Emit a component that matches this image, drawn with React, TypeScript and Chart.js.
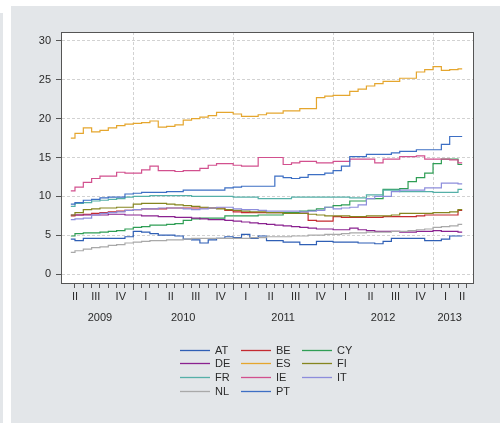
import React, { useEffect, useRef } from 'react';
import { Chart, registerables } from 'chart.js';

Chart.register(...registerables);

// ---- Data (monthly unemployment rate, %, May 2009 – Apr 2013) ----
const COUNTRIES = ['AT', 'BE', 'CY', 'DE', 'ES', 'FI', 'FR', 'IE', 'IT', 'NL', 'PT'];

const AT = [4.5, 4.3, 4.6, 4.6, 4.6, 4.6, 4.6, 4.8, 5.5, 5.4, 5.2, 5.0,
  5.0, 4.9, 4.5, 4.4, 4.0, 4.4, 4.6, 4.8, 4.7, 5.1, 4.6, 4.9,
  4.3, 4.3, 4.1, 4.1, 3.8, 3.8, 4.2, 4.2, 4.1, 4.1, 4.1, 4.0,
  4.0, 3.9, 4.2, 4.6, 4.6, 4.6, 4.6, 4.3, 4.3, 4.5, 4.9, 4.9];
const BE = [7.5, 7.6, 7.7, 7.8, 7.9, 8.0, 8.1, 8.2, 8.3, 8.4, 8.4, 8.4,
  8.5, 8.5, 8.5, 8.5, 8.5, 8.5, 8.5, 8.2, 8.0, 7.9, 7.9, 7.9,
  7.9, 7.9, 7.85, 7.85, 7.85, 6.9, 6.8, 6.8, 7.4, 7.3, 7.3, 7.3,
  7.3, 7.3, 7.4, 7.4, 7.4, 7.4, 7.5, 7.6, 7.6, 7.6, 7.6, 8.2];
const CY = [4.9, 5.2, 5.3, 5.3, 5.4, 5.5, 5.6, 5.8, 6.0, 6.1, 6.3, 6.3,
  6.4, 6.5, 6.9, 7.1, 7.2, 7.2, 7.2, 7.5, 7.5, 7.5, 7.5, 7.6,
  7.6, 7.6, 7.9, 7.9, 8.1, 8.2, 8.4, 8.6, 8.8, 8.9, 9.4, 9.4,
  9.7, 9.7, 10.9, 10.9, 11.0, 11.9, 12.4, 13.0, 14.2, 14.8, 14.8, 14.1];
const DE = [7.6, 7.6, 7.6, 7.6, 7.6, 7.7, 7.7, 7.6, 7.6, 7.5, 7.5, 7.4,
  7.4, 7.3, 7.3, 7.2, 7.1, 7.0, 7.0, 6.9, 6.8, 6.7, 6.6, 6.5,
  6.4, 6.3, 6.2, 6.1, 6.0, 5.9, 5.8, 5.8, 5.7, 5.7, 5.9, 5.7,
  5.6, 5.5, 5.5, 5.5, 5.4, 5.4, 5.5, 5.5, 5.6, 5.5, 5.5, 5.4];
const ES = [17.5, 18.1, 18.8, 18.3, 18.5, 18.8, 19.1, 19.3, 19.4, 19.5, 19.7, 18.9,
  19.0, 19.2, 19.8, 20.0, 20.2, 20.4, 20.8, 20.8, 20.6, 20.3, 20.3, 20.5,
  20.7, 20.7, 21.0, 21.0, 21.3, 21.3, 22.7, 22.9, 23.0, 23.0, 23.5, 23.8,
  24.2, 24.5, 24.8, 24.8, 25.2, 25.2, 26.0, 26.3, 26.7, 26.2, 26.3, 26.4];
const FI = [7.6, 7.9, 8.3, 8.4, 8.5, 8.5, 8.6, 8.6, 9.0, 9.1, 9.1, 9.1,
  9.0, 8.9, 8.8, 8.7, 8.6, 8.5, 8.4, 8.3, 8.2, 8.1, 8.0, 8.0,
  7.9, 7.9, 7.8, 7.8, 7.8, 7.7, 7.6, 7.5, 7.5, 7.5, 7.4, 7.4,
  7.5, 7.5, 7.5, 7.6, 7.8, 7.8, 7.8, 7.8, 7.9, 7.9, 8.0, 8.3];
const FR = [8.7, 9.1, 9.2, 9.4, 9.5, 9.6, 9.7, 9.9, 10.0, 10.0, 10.1, 10.1,
  10.1, 10.1, 10.1, 10.0, 10.0, 10.0, 10.0, 10.0, 9.9, 9.9, 9.9, 9.7,
  9.7, 9.7, 9.7, 9.9, 9.9, 9.9, 9.9, 9.9, 9.9, 9.9, 9.8, 9.8,
  10.2, 10.2, 10.8, 10.8, 10.6, 10.6, 10.6, 10.6, 10.5, 10.5, 10.5, 10.9];
const IE = [10.7, 11.2, 11.8, 12.3, 12.6, 12.6, 13.1, 13.0, 13.0, 13.4, 13.9, 13.3,
  13.3, 13.2, 13.3, 13.3, 13.6, 14.0, 14.2, 14.2, 14.0, 13.9, 13.9, 15.0,
  15.0, 15.0, 14.1, 14.3, 14.5, 14.5, 14.3, 14.3, 14.5, 14.5, 14.8, 14.8,
  14.8, 14.3, 14.8, 14.8, 15.1, 15.1, 15.2, 14.8, 14.8, 14.8, 14.7, 14.3];
const IT = [7.0, 7.1, 7.2, 7.6, 7.8, 7.9, 8.0, 8.2, 8.3, 8.4, 8.4, 8.5,
  8.5, 8.5, 8.4, 8.3, 8.4, 8.5, 8.6, 8.6, 8.4, 8.3, 8.3, 8.2,
  8.1, 8.1, 8.1, 8.1, 8.0, 8.1, 8.2, 8.6, 8.4, 8.5, 8.6, 8.9,
  9.7, 10.0, 10.0, 10.6, 10.8, 10.8, 10.8, 11.1, 11.1, 11.7, 11.7, 11.6];
const NL = [2.8, 3.0, 3.2, 3.4, 3.5, 3.7, 3.8, 4.0, 4.1, 4.2, 4.3, 4.3,
  4.4, 4.4, 4.5, 4.6, 4.6, 4.6, 4.6, 4.6, 4.6, 4.6, 4.7, 4.7,
  4.8, 4.8, 4.8, 4.9, 4.9, 5.0, 5.0, 5.1, 5.1, 5.2, 5.3, 5.3,
  5.4, 5.4, 5.4, 5.5, 5.5, 5.6, 5.7, 5.8, 6.0, 6.1, 6.2, 6.4];
const PT = [9.0, 9.2, 9.5, 9.6, 9.8, 9.9, 9.9, 10.3, 10.4, 10.5, 10.5, 10.5,
  10.6, 10.6, 10.8, 10.8, 10.8, 10.8, 10.8, 11.1, 11.2, 11.3, 11.3, 11.3,
  11.3, 12.6, 12.4, 12.3, 12.45, 12.8, 12.8, 13.0, 13.3, 13.9, 15.1, 15.1,
  15.4, 15.4, 15.4, 15.6, 15.8, 15.8, 16.0, 16.0, 16.0, 16.7, 17.7, 17.7];

const SERIES = [AT, BE, CY, DE, ES, FI, FR, IE, IT, NL, PT];

const YEARS = [2009, 2010, 2011, 2012, 2013];
const QUARTERS = ['I', 'II', 'III', 'IV'];
const Y_TICKS = [0, 5, 10, 15, 20, 25, 30];
const FIRST_MONTH_INDEX = 4; // May 2009, counted in months from Jan 2009

// ---- Styles ----
const COLORS = ['#2f5fb5', '#c42a30', '#2f9e55', '#8a2290', '#e5a62e', '#85851f',
  '#55b0a8', '#d2508e', '#8d8ddc', '#a9a9a9', '#3d6fc4'];
const PANEL = '#e3e6e9';
const AXIS = '#555555';
const GRID = '#d2d2d2';
const TEXT = '#2b2b2b';
const FONT_FAMILY = "'Liberation Sans', Arial, sans-serif";
const FONT = { family: FONT_FAMILY, size: 11 };

const X_MIN = 3.32;
const X_MAX = 52.8;
const Y_MIN = -1.15;
const Y_MAX = 31.15;

export default function App() {
  const ref = useRef<HTMLCanvasElement>(null);

  useEffect(() => {
    const canvas = ref.current;
    if (!canvas) return;
    const n = AT.length;
    const dataStart = FIRST_MONTH_INDEX;
    const dataEnd = dataStart + n;

    const monthTicks: number[] = [];
    for (let m = dataStart + 1; m <= dataEnd; m++) monthTicks.push(m);

    const quarterLabels = new Map<number, string>();
    YEARS.forEach((_y, yi) => {
      QUARTERS.forEach((q, qi) => {
        const s = yi * 12 + qi * 3;
        const e = s + 3;
        const a = Math.max(s, dataStart);
        const b = Math.min(e, dataEnd);
        if (b > a) quarterLabels.set((a + b) / 2, q);
      });
    });
    const yearLabels = new Map<number, string>();
    YEARS.forEach((y, yi) => {
      const a = Math.max(yi * 12, dataStart);
      const b = Math.min(yi * 12 + 12, dataEnd);
      if (b > a) yearLabels.set((a + b) / 2, String(y));
    });
    const xTickValues = Array.from(new Set([...monthTicks, ...quarterLabels.keys()])).sort((a, b) => a - b);
    const isYearBoundary = (v: any) => typeof v === 'number' && v % 12 === 0;
    const isMonth = (v: any) => typeof v === 'number' && Number.isInteger(v) && v > dataStart && v <= dataEnd;

    const plotBg = {
      id: 'plotBg',
      beforeDraw(chart: any) {
        const { ctx, chartArea } = chart;
        ctx.save();
        ctx.fillStyle = '#ffffff';
        ctx.fillRect(chartArea.left, chartArea.top, chartArea.right - chartArea.left, chartArea.bottom - chartArea.top);
        ctx.restore();
      },
    };

    const frame = {
      id: 'frame',
      afterDraw(chart: any) {
        const { ctx, chartArea } = chart;
        ctx.save();
        ctx.strokeStyle = AXIS;
        ctx.lineWidth = 1;
        ctx.beginPath();
        ctx.moveTo(chartArea.left, chartArea.top + 0.5);
        ctx.lineTo(chartArea.right + 1, chartArea.top + 0.5);
        ctx.moveTo(chartArea.right + 0.5, chartArea.top);
        ctx.lineTo(chartArea.right + 0.5, chartArea.bottom + 1);
        ctx.stroke();
        ctx.restore();
      },
    };

    const gridLegend = {
      id: 'gridLegend',
      afterDraw(chart: any) {
        const { ctx } = chart;
        const x0 = 169;
        const dx = 61;
        const y0 = 343.5;
        const dy = 13.8;
        const lineLen = 30;
        ctx.save();
        ctx.font = `11px ${FONT_FAMILY}`;
        ctx.textBaseline = 'middle';
        ctx.textAlign = 'left';
        chart.data.datasets.forEach((ds: any, k: number) => {
          const col = k % 3;
          const row = Math.floor(k / 3);
          const x = x0 + col * dx;
          const y = Math.round(y0 + row * dy) + 0.5;
          ctx.strokeStyle = ds.borderColor;
          ctx.lineWidth = 1.3;
          ctx.beginPath();
          ctx.moveTo(x, y);
          ctx.lineTo(x + lineLen, y);
          ctx.stroke();
          ctx.fillStyle = TEXT;
          ctx.fillText(ds.label, x + lineLen + 5, y + 0.5);
        });
        ctx.restore();
      },
    };

    const chart = new Chart(canvas, {
      type: 'line',
      data: {
        datasets: COUNTRIES.map((c, k) => ({
          label: c,
          data: SERIES[k].map((v, i) => ({ x: dataStart + i + 0.5, y: v })),
          borderColor: COLORS[k],
          backgroundColor: COLORS[k],
          borderWidth: 1.2,
          pointRadius: 0,
          stepped: 'middle',
          fill: false,
          order: COUNTRIES.length - k,
        })),
      },
      options: {
        responsive: false,
        animation: false,
        devicePixelRatio: 1,
        events: [],
        layout: { padding: { top: 26, right: 27, left: 0, bottom: 94 } },
        plugins: {
          legend: { display: false },
          tooltip: { enabled: false },
        },
        scales: {
          x: {
            type: 'linear',
            position: 'bottom',
            min: X_MIN,
            max: X_MAX,
            weight: 0,
            afterBuildTicks: (s: any) => { s.ticks = xTickValues.map((v) => ({ value: v })); },
            afterFit: (s: any) => { s.height = 24; },
            ticks: {
              autoSkip: false,
              maxRotation: 0,
              minRotation: 0,
              padding: 0,
              color: TEXT,
              font: FONT,
              callback: (v: any) => quarterLabels.get(v) ?? '',
            },
            grid: {
              color: (ctx: any) => (isYearBoundary(ctx.tick?.value) ? GRID : 'rgba(0,0,0,0)'),
              tickColor: (ctx: any) => (isMonth(ctx.tick?.value) ? AXIS : 'rgba(0,0,0,0)'),
              tickBorderDash: (ctx: any) => (isYearBoundary(ctx.tick?.value) ? [] : [4, 20]),
              tickLength: 7,
              lineWidth: 1,
            },
            border: { color: AXIS, width: 1, dash: [3, 2] },
          },
          x2: {
            type: 'linear',
            position: 'bottom',
            min: X_MIN,
            max: X_MAX,
            weight: 1,
            afterBuildTicks: (s: any) => { s.ticks = Array.from(yearLabels.keys()).map((v) => ({ value: v })); },
            afterFit: (s: any) => { s.height = 22; },
            ticks: {
              autoSkip: false,
              maxRotation: 0,
              minRotation: 0,
              padding: 4,
              color: TEXT,
              font: FONT,
              callback: (v: any) => yearLabels.get(v) ?? '',
            },
            grid: { display: false, drawTicks: false },
            border: { display: false },
          },
          y: {
            type: 'linear',
            min: Y_MIN,
            max: Y_MAX,
            afterBuildTicks: (s: any) => { s.ticks = Y_TICKS.map((v) => ({ value: v })); },
            afterFit: (s: any) => { s.width = 50; },
            ticks: {
              padding: 5,
              color: TEXT,
              font: FONT,
              callback: (v: any) => String(v),
            },
            grid: {
              color: GRID,
              tickColor: AXIS,
              tickLength: 5,
              tickBorderDash: [],
              lineWidth: 1,
            },
            border: { color: AXIS, width: 1, dash: [3, 2] },
          },
        },
      } as any,
      plugins: [plotBg, frame, gridLegend],
    });

    return () => chart.destroy();
  }, []);

  return (
    <div style={{ position: 'fixed', left: 0, top: 0, width: 500, height: 423, background: '#ffffff', overflow: 'hidden' }}>
      <div style={{ position: 'absolute', left: 0, top: 13, width: 3, bottom: 0, background: PANEL }} />
      <div style={{ position: 'absolute', left: 11, top: 6, right: 0, bottom: 0, background: PANEL }}>
        <canvas ref={ref} width={489} height={417} style={{ display: 'block', width: 489, height: 417 }} />
      </div>
    </div>
  );
}
